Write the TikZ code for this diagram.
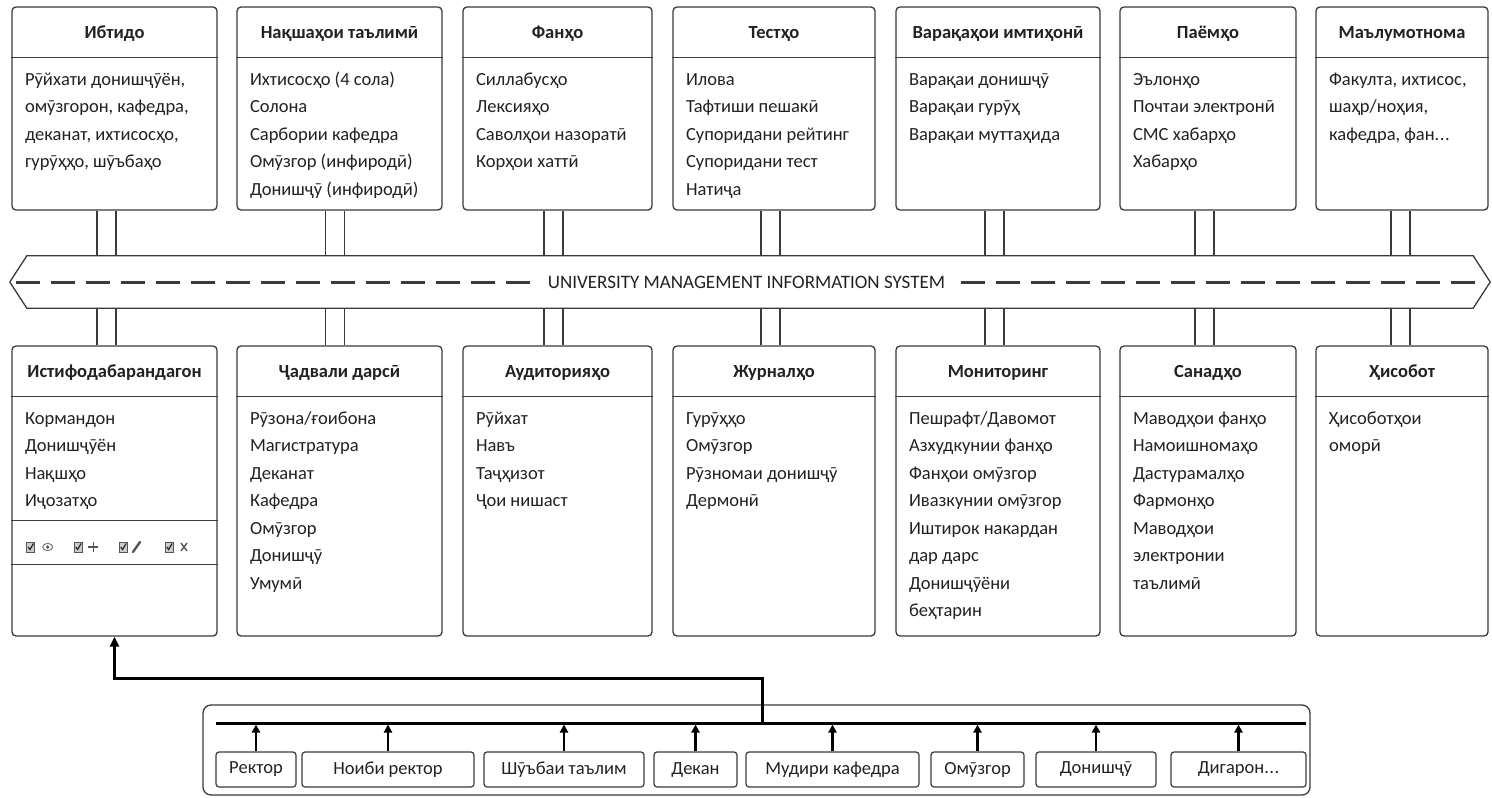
\documentclass[tikz,border=0pt]{standalone}
\usepackage{fontspec}
\setmainfont{Carlito}
\usetikzlibrary{arrows.meta}
\definecolor{ln}{HTML}{3A3A3A}
\definecolor{tx}{HTML}{222222}
\definecolor{ic}{HTML}{555555}
\newcommand{\hdrfont}{\fontsize{18.5}{22}\selectfont\bfseries}
\newcommand{\itmfont}{\fontsize{18.5}{22}\selectfont}
\newcommand{\bandfont}{\fontsize{19}{22}\selectfont}
\newcommand{\threedots}{.\kern0.5pt.\kern0.5pt.}
\tikzset{
  umb/.style={draw=ln, line width=1.3pt, rounded corners=4pt, inner sep=0pt, fill=white},
  lnone/.style={draw=ln, line width=1.3pt},
  hdr/.style={font=\hdrfont, text=tx, inner sep=0pt},
  itm/.style={font=\itmfont, text=tx, inner sep=0pt},
  roleb/.style={draw=ln, line width=1.2pt, rounded corners=3pt, minimum height=35pt, inner sep=0pt, font=\itmfont, text=tx},
  rarrow/.style={draw=black, line width=2.2pt, -{Triangle[length=8pt,width=8pt]}},
  elbarrow/.style={draw=black, line width=3pt, -{Triangle[length=10pt,width=9pt]}},
  dashline/.style={draw=ln, line width=3pt, dash pattern=on 24pt off 11pt},
  icn/.style={draw=ic, line width=1.4pt},
}
% name, cx, cy, w, h, title
\newcommand{\umbox}[6]{%
  \node[umb, minimum width=#4pt, minimum height=#5pt] (#1) at (#2,#3) {};
  \draw[lnone] ([yshift=-51pt]#1.north west) -- ([yshift=-51pt]#1.north east);
  \node[hdr, anchor=base] (#1h) at ([yshift=-32pt]#1.north) {#6};
}
\newcommand{\umitems}[2]{%
  \foreach \lbl [count=\i] in {#2} {
    \node[itm, anchor=base west] (#1i\i) at ([xshift=13.5pt, yshift={-79-(\i-1)*27.5}]#1.north west) {\lbl};
  }
}
% top, bottom, offset
\newcommand{\umconn}[3]{%
  \foreach \s in {-9.5,9.5} {
    \draw[lnone] ([xshift={#3+\s}]#1.south) -- ([xshift={#3+\s}]#1.south |- band.north);
    \draw[lnone] ([xshift={#3+\s}]#2.north) -- ([xshift={#3+\s}]#2.north |- band.south);
  }
}
\begin{document}
\begin{tikzpicture}[x=1pt,y=-1pt]
\useasboundingbox (0,0) rectangle (1492,798);

% band
\node[minimum width=1480pt, minimum height=52pt, inner sep=0pt] (band) at (750,282) {};
\draw[lnone, fill=white] (band.west) -- ([xshift=17pt]band.north west) -- ([xshift=-17pt]band.north east)
  -- (band.east) -- ([xshift=-17pt]band.south east) -- ([xshift=17pt]band.south west) -- cycle;
\draw[dashline] ([xshift=6pt]band.west) -- ([xshift=-5pt]band.east);
\node[fill=white, inner xsep=7pt, inner ysep=2pt, font=\bandfont, text=tx] (bandtxt) at (746.5,282) {UNIVERSITY MANAGEMENT INFORMATION SYSTEM};

% top boxes
\umbox{T1}{114.5}{108.5}{205}{203}{Ибтидо}
\umitems{T1}{{Рӯйхати донишҷӯён,},{омӯзгорон, кафедра,},{деканат, ихтисосҳо,},{гурӯҳҳо, шӯъбаҳо}}
\umbox{T2}{339.5}{108.5}{205}{203}{Нақшаҳои таълимӣ}
\umitems{T2}{{Ихтисосҳо (4 сола)},{Солона},{Сарбории кафедра},{Омӯзгор (инфиродӣ)},{Донишҷӯ (инфиродӣ)}}
\umbox{T3}{557.5}{108.5}{189}{203}{Фанҳо}
\umitems{T3}{{Силлабусҳо},{Лексияҳо},{Саволҳои назоратӣ},{Корҳои хаттӣ}}
\umbox{T4}{774}{108.5}{202}{203}{Тестҳо}
\umitems{T4}{{Илова},{Тафтиши пешакӣ},{Супоридани рейтинг},{Супоридани тест},{Натиҷа}}
\umbox{T5}{998}{108.5}{204}{203}{Варақаҳои имтиҳонӣ}
\umitems{T5}{{Варақаи донишҷӯ},{Варақаи гурӯҳ},{Варақаи муттаҳида}}
\umbox{T6}{1208}{108.5}{176}{203}{Паёмҳо}
\umitems{T6}{{Эълонҳо},{Почтаи электронӣ},{СМС хабарҳо},{Хабарҳо}}
\umbox{T7}{1402}{108.5}{172}{203}{Маълумотнома}
\umitems{T7}{{Факулта, ихтисос,},{шаҳр/ноҳия,},{кафедра, фан\threedots}}

% bottom boxes
\umbox{B1}{114.5}{491}{205}{290}{Истифодабарандагон}
\umitems{B1}{{Кормандон},{Донишҷӯён},{Нақшҳо},{Иҷозатҳо}}
\draw[lnone] ([yshift=-175pt]B1.north west) -- ([yshift=-175pt]B1.north east);
\draw[lnone] ([yshift=-219pt]B1.north west) -- ([yshift=-219pt]B1.north east);
\umbox{B2}{339.5}{491}{205}{290}{Ҷадвали дарсӣ}
\umitems{B2}{{Рӯзона/ғоибона},{Магистратура},{Деканат},{Кафедра},{Омӯзгор},{Донишҷӯ},{Умумӣ}}
\umbox{B3}{557.5}{491}{189}{290}{Аудиторияҳо}
\umitems{B3}{{Рӯйхат},{Навъ},{Таҷҳизот},{Ҷои нишаст}}
\umbox{B4}{774}{491}{202}{290}{Журналҳо}
\umitems{B4}{{Гурӯҳҳо},{Омӯзгор},{Рӯзномаи донишҷӯ},{Дермонӣ}}
\umbox{B5}{998}{491}{204}{290}{Мониторинг}
\umitems{B5}{{Пешрафт/Давомот},{Азхудкунии фанҳо},{Фанҳои омӯзгор},{Ивазкунии омӯзгор},{Иштирок накардан},{дар дарс},{Донишҷӯёни},{беҳтарин}}
\umbox{B6}{1208}{491}{176}{290}{Санадҳо}
\umitems{B6}{{Маводҳои фанҳо},{Намоишномаҳо},{Дастурамалҳо},{Фармонҳо},{Маводҳои},{электронии},{таълимӣ}}
\umbox{B7}{1402}{491}{172}{290}{Ҳисобот}
\umitems{B7}{{Ҳисоботҳои},{оморӣ}}

% connectors to the band
\umconn{T1}{B1}{-8}
\umconn{T2}{B2}{-4.5}
\umconn{T3}{B3}{-4}
\umconn{T4}{B4}{-3.5}
\umconn{T5}{B5}{-3.5}
\umconn{T6}{B6}{-3.5}
\umconn{T7}{B7}{-1.5}

% permission icons in B1
\foreach \cx in {30.7,78.3,123.3,169.3} {
  \draw[draw=ic, fill=ic!30, line width=0.8pt] (\cx-4,542) rectangle (\cx+4,552);
  \draw[draw=black!85, line width=1.2pt] (\cx-2.5,547) -- (\cx-0.7,549.5) -- (\cx+2.8,543.5);
}
\draw[draw=ic!80, line width=1pt] (47.7,547) ellipse (5pt and 3.6pt);
\fill[ic] (47.7,547) circle (1.8pt);
\draw[icn] (93.3,542) -- (93.3,552) (88.3,547) -- (98.3,547);
\draw[draw=ic, line width=2.4pt, line cap=round] (133,552) -- (140,542);
\draw[icn] (181,543) -- (187,551) (181,551) -- (187,543);

% role bar
\node[draw=ln, line width=1.3pt, rounded corners=8pt, minimum width=1107pt, minimum height=90pt, inner sep=0pt] (bar) at (756.5,750) {};
\coordinate (busL) at (216,723);
\coordinate (busR) at (1306,723);
\draw[line width=3pt] (busL) -- (busR);
\node[roleb, minimum width=80pt] (r1) at (256,769.5) {Ректор};
\node[roleb, minimum width=172pt] (r2) at (388,769.5) {Ноиби ректор};
\node[roleb, minimum width=160pt] (r3) at (564,769.5) {Шӯъбаи таълим};
\node[roleb, minimum width=83pt] (r4) at (695.5,769.5) {Декан};
\node[roleb, minimum width=173pt] (r5) at (832.5,769.5) {Мудири кафедра};
\node[roleb, minimum width=93pt] (r6) at (977.5,769.5) {Омӯзгор};
\node[roleb, minimum width=120pt] (r7) at (1096,769.5) {Донишҷӯ};
\node[roleb, minimum width=135pt] (r8) at (1238.5,769.5) {Дигарон\threedots};
\foreach \r in {r1,r2,r3,r4,r5,r6,r7,r8} {
  \draw[rarrow] (\r.north) -- ([yshift=-1.5pt]\r.north |- busL);
}
% bus to users box
\coordinate (elb) at (762,723);
\draw[elbarrow] (elb) -- ++(0,-45) -| (B1.south);
\end{tikzpicture}
\end{document}
